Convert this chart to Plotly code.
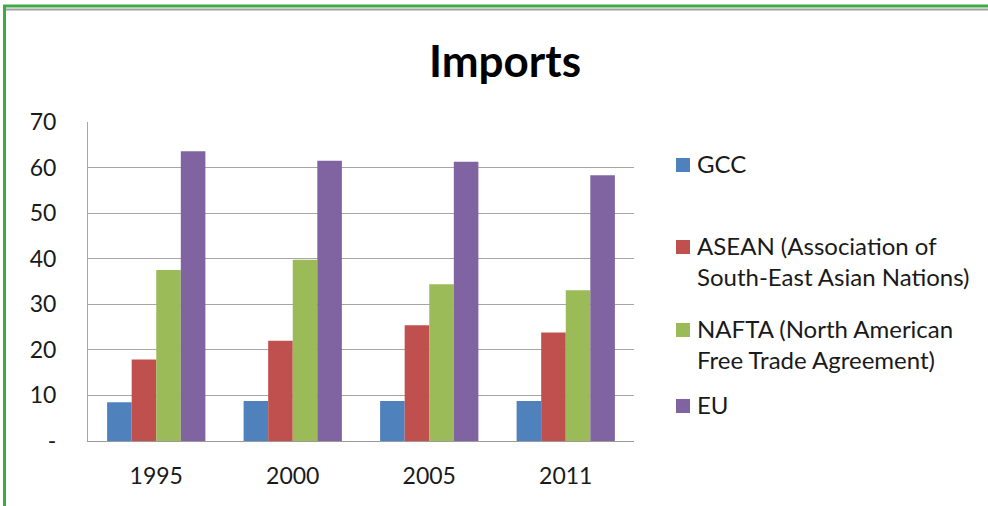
import plotly.graph_objects as go

years = ["1995", "2000", "2005", "2011"]
series_names = ["GCC", "ASEAN (Association of<br>South-East Asian Nations)",
                "NAFTA (North American<br>Free Trade Agreement)", "EU"]
gcc = [8.5, 8.8, 8.8, 8.8]
asean = [17.9, 22.0, 25.4, 23.8]
nafta = [37.5, 39.8, 34.4, 33.1]
eu = [63.6, 61.5, 61.3, 58.3]
colors = ["#4F81BD", "#C0504D", "#9BBB59", "#8064A2"]
y_tickvals = [0, 10, 20, 30, 40, 50, 60, 70]
y_ticktext = ["-", "10", "20", "30", "40", "50", "60", "70"]

W, H = 988, 506
L, R, T, B = 88, 354, 122, 65
PW, PH = W - L - R, H - T - B

def px(x):
    return (x - L) / PW

def py(y):
    return (H - B - y) / PH

FONT = "Lato"
fig = go.Figure()
for name, vals, c in zip(series_names, [gcc, asean, nafta, eu], colors):
    fig.add_trace(go.Bar(x=years, y=vals, name=name, marker=dict(color=c, line=dict(width=0)),
                         showlegend=False))

shapes = []
annotations = []
# legend (manual, to match irregular spacing)
leg_y = [165, 247, 330, 406]
for i, (name, c) in enumerate(zip(series_names, colors)):
    yc = leg_y[i]
    shapes.append(dict(type="rect", xref="paper", yref="paper",
                       x0=px(676), x1=px(690), y0=py(yc + 7), y1=py(yc - 7),
                       fillcolor=c, line=dict(width=0)))
    annotations.append(dict(xref="paper", yref="paper", x=px(695), y=py(yc - 18),
                            xanchor="left", yanchor="top", align="left",
                            text=name, showarrow=False,
                            font=dict(family=FONT, size=24, color="#1a1a1a")))

# green frame
shapes.append(dict(type="line", xref="paper", yref="paper", x0=px(4), x1=px(988),
                   y0=py(9.5), y1=py(9.5), line=dict(color="#a0a0a0", width=2)))
shapes.append(dict(type="line", xref="paper", yref="paper", x0=px(3), x1=px(988),
                   y0=py(6), y1=py(6), line=dict(color="#3DAA47", width=3)))
shapes.append(dict(type="line", xref="paper", yref="paper", x0=px(4.5), x1=px(4.5),
                   y0=py(5), y1=py(506), line=dict(color="#3DAA47", width=3)))

fig.update_layout(
    width=W, height=H,
    margin=dict(l=L, r=R, t=T, b=B, autoexpand=False),
    paper_bgcolor="white", plot_bgcolor="white",
    barmode="group", bargap=0.28, bargroupgap=0,
    title=dict(text="<b>Imports</b>", x=px(505), xref="paper", xanchor="center",
               y=1 - 62 / H, yanchor="middle",
               font=dict(family=FONT, size=44, color="#000000")),
    font=dict(family=FONT, size=23, color="#1a1a1a"),
    shapes=shapes, annotations=annotations,
    xaxis=dict(showgrid=False, showline=True, linecolor="#9a9a9a", linewidth=1,
               ticks="", ticklabelstandoff=14, tickfont=dict(size=23)),
    yaxis=dict(range=[0, 70], tickvals=y_tickvals, ticktext=y_ticktext,
               showgrid=True, gridcolor="#a6a6a6", gridwidth=1,
               showline=True, linecolor="#a6a6a6", linewidth=1,
               zeroline=False, ticks="", ticklabelstandoff=26, tickfont=dict(size=23)),
)
fig.write_html("out.html", config={"displayModeBar": False},
               post_script="document.body.style.margin='0';document.body.style.overflow='hidden';")
